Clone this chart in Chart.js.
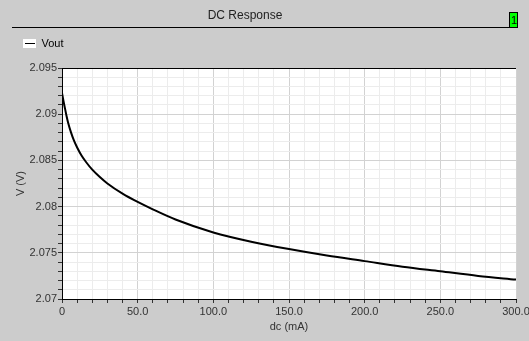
<!DOCTYPE html>
<html>
<head>
<meta charset="utf-8">
<script src="https://cdn.jsdelivr.net/npm/chart.js@4/dist/chart.umd.min.js"></script>
<style>
  html, body { margin: 0; padding: 0; background: #cccccc; }
  #wrap { width: 529px; height: 341px; }
</style>
</head>
<body>
<div id="wrap"><canvas id="dcChart" width="529" height="341"></canvas></div>
<script>
// values
const dcCurrent = [0, 1, 2, 3, 4, 6, 8, 10, 13, 16, 20, 25, 30, 40, 50, 60, 75, 100, 125, 150, 175, 200, 225, 250, 275, 300];
const vout = [2.0923, 2.0914, 2.0906, 2.0898, 2.0891, 2.0880, 2.0871, 2.0864, 2.0855, 2.0848, 2.0840, 2.0832, 2.0825, 2.0814, 2.0805, 2.0797, 2.0786, 2.0772, 2.0762, 2.0754, 2.0747, 2.0741, 2.0735, 2.0730, 2.0725, 2.0721];
const seriesName = 'Vout';
const chartTitle = 'DC Response';
const xLabel = 'dc (mA)';
const yLabel = 'V (V)';

const FONT = 'Liberation Sans, Arial, sans-serif';

// grey backdrop, white plot area, header line and the green "1" box
const panelPlugin = {
    id: 'panel',
    beforeInit(chart){
        // extra gap below the legend
        const fit = chart.legend.fit;
        chart.legend.fit = function(){
            fit.call(this);
            this.height += 9;
        };
    },
    beforeDraw(chart){
        const c = chart.ctx;
        const a = chart.chartArea;
        c.save();
        c.fillStyle = '#cccccc';
        c.fillRect(0, 0, chart.width, chart.height);
        c.fillStyle = '#ffffff';
        c.fillRect(a.left, a.top, a.right - a.left, a.bottom - a.top);

        c.fillStyle = '#222';
        c.font = '12px ' + FONT;
        c.textAlign = 'center';
        c.textBaseline = 'middle';
        c.fillText(chartTitle, 245, 16);

        c.strokeStyle = '#000';
        c.lineWidth = 1;
        c.beginPath();
        c.moveTo(12, 27.5);
        c.lineTo(510, 27.5);
        c.stroke();

        c.fillStyle = '#00ff00';
        c.fillRect(509, 12, 9, 16);
        c.strokeRect(509.5, 12.5, 8, 15);
        c.fillStyle = '#000';
        c.font = '11px ' + FONT;
        c.fillText('1', 514, 21);

        // white legend swatch
        const hb = chart.legend.legendHitBoxes[0];
        if (hb) {
            c.fillStyle = '#ffffff';
            c.fillRect(hb.left, hb.top + 1, 13, 9);
        }
        c.restore();
    },
    afterDraw(chart){
        const c = chart.ctx;
        const a = chart.chartArea;
        c.save();
        c.strokeStyle = '#000';
        c.lineWidth = 1;
        c.beginPath();
        c.moveTo(a.left, a.top + 0.5);
        c.lineTo(a.right, a.top + 0.5);
        c.stroke();
        const hb = chart.legend.legendHitBoxes[0];
        if (hb) {
            c.beginPath();
            c.moveTo(hb.left + 2, hb.top + 5.5);
            c.lineTo(hb.left + 12, hb.top + 5.5);
            c.stroke();
        }
        c.restore();
    }
};

new Chart(document.getElementById('dcChart'), {
    type: 'line',
    data: {
        datasets: [{
            label: seriesName,
            data: dcCurrent.map((x, i) => ({ x: x, y: vout[i] })),
            borderColor: '#000000',
            borderWidth: 2,
            pointRadius: 0,
            cubicInterpolationMode: 'monotone',
            fill: false
        }]
    },
    options: {
        responsive: false,
        animation: false,
        layout: {
            padding: { left: 12, right: 13, top: 27, bottom: 5 }
        },
        plugins: {
            title: { display: false },
            tooltip: { enabled: false },
            legend: {
                display: true,
                position: 'top',
                align: 'start',
                labels: {
                    boxWidth: 13,
                    boxHeight: 9,
                    padding: 11,
                    color: '#111',
                    font: { family: FONT, size: 11 },
                    generateLabels: () => [{
                        text: seriesName,
                        fillStyle: 'rgba(0,0,0,0)',
                        strokeStyle: 'rgba(0,0,0,0)',
                        lineWidth: 0,
                        datasetIndex: 0
                    }]
                }
            }
        },
        scales: {
            x: {
                type: 'linear',
                min: 0,
                max: 300,
                afterFit(scale){
                    scale.height = 37;
                    scale.paddingRight = 0;
                },
                border: { color: '#000', width: 1 },
                grid: {
                    color: ctx => (ctx.tick && Math.round(ctx.tick.value) % 50 === 0) ? '#d2d2d2' : '#ececec',
                    tickColor: '#333',
                    tickLength: 4
                },
                ticks: {
                    stepSize: 10,
                    autoSkip: false,
                    maxRotation: 0,
                    padding: 2,
                    color: '#333',
                    font: { family: FONT, size: 11 },
                    callback: v => {
                        const r = Math.round(v);
                        if (r % 50 !== 0) return '';
                        return r === 0 ? '0' : r.toFixed(1);
                    }
                },
                title: {
                    display: true,
                    text: xLabel,
                    color: '#333',
                    font: { family: FONT, size: 11 },
                    padding: { top: 0, bottom: 2 }
                }
            },
            y: {
                min: 2.07,
                max: 2.095,
                afterFit(scale){
                    scale.width = 50;
                },
                border: { color: '#000', width: 1 },
                grid: {
                    color: ctx => (ctx.tick && Math.round(ctx.tick.value * 1000) % 5 === 0) ? '#d2d2d2' : '#ececec',
                    tickColor: '#333',
                    tickLength: 4
                },
                ticks: {
                    stepSize: 0.001,
                    autoSkip: false,
                    padding: 1,
                    color: '#333',
                    font: { family: FONT, size: 11 },
                    callback: v => {
                        const m = Math.round(v * 1000);
                        if (m % 5 !== 0) return '';
                        return String(m / 1000);
                    }
                },
                title: {
                    display: true,
                    text: yLabel,
                    color: '#333',
                    font: { family: FONT, size: 11 },
                    padding: { top: 2, bottom: 0 }
                }
            }
        }
    },
    plugins: [panelPlugin]
});
</script>
</body>
</html>
